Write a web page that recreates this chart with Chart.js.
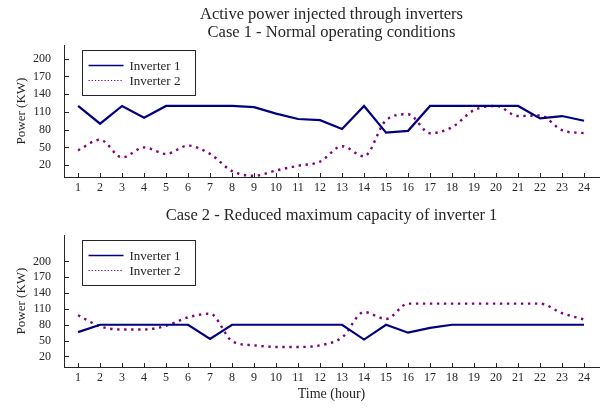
<!DOCTYPE html>
<html>
<head>
<meta charset="utf-8">
<script src="https://cdn.jsdelivr.net/npm/chart.js@4.4.1/dist/chart.umd.min.js"></script>
<style>
  html, body { margin: 0; padding: 0; background: #fff; }
  #wrap { position: relative; width: 603px; height: 409px; }
  canvas { position: absolute; left: 0; }
  #case1 { top: 0; }
  #case2 { top: 200px; }
</style>
</head>
<body>
<div id="wrap">
  <canvas id="case1" width="603" height="200"></canvas>
  <canvas id="case2" width="603" height="209"></canvas>
</div>
<script>
const hours = [1, 2, 3, 4, 5, 6, 7, 8, 9, 10, 11, 12, 13, 14, 15, 16, 17, 18, 19, 20, 21, 22, 23, 24];
const powerTicks = [20, 50, 80, 110, 140, 170, 200];

// Case 1 - normal operating conditions (kW)
const case1Inverter1 = [120, 90, 120, 100, 120, 120, 120, 120, 118, 107, 98, 96, 81, 120, 75, 78, 120, 120, 120, 120, 120, 99, 103, 95];
const case1Inverter2 = [45, 63, 33, 50, 39, 53, 39, 10, 2, 11, 19, 26, 52, 35, 96, 106, 74, 84, 113, 120, 103, 104, 79, 74];

// Case 2 - reduced max capacity of inverter 1 (kW)
const case2Inverter1 = [66, 80, 80, 80, 80, 80, 53, 80, 80, 80, 80, 80, 80, 52, 80, 65, 74, 80, 80, 80, 80, 80, 80, 80];
const case2Inverter2 = [98, 77, 71, 71, 78, 94, 101, 49, 41, 38, 38, 41, 56, 104, 91, 120, 120, 120, 120, 120, 120, 120, 102, 90];

const FONT = "'Liberation Serif', 'Times New Roman', serif";
const AXIS = '#262626';

// MATLAB style ticks pointing into the axes
const innerTicks = {
  id: 'innerTicks',
  afterDatasetsDraw(chart) {
    const { ctx, chartArea: a, scales: { x, y } } = chart;
    ctx.save();
    ctx.strokeStyle = AXIS;
    ctx.lineWidth = 1;
    ctx.beginPath();
    x.ticks.forEach(t => {
      const px = Math.round(x.getPixelForValue(t.value)) + 0.5;
      ctx.moveTo(px, a.bottom);
      ctx.lineTo(px, a.bottom - 4);
    });
    y.ticks.forEach(t => {
      const py = Math.round(y.getPixelForValue(t.value)) + 0.5;
      ctx.moveTo(a.left, py);
      ctx.lineTo(a.left + 5, py);
    });
    ctx.stroke();
    ctx.restore();
  }
};

// boxed legend in the top-left corner of the plot area
const boxLegend = {
  id: 'boxLegend',
  afterDraw(chart) {
    const { ctx, chartArea: a } = chart;
    const bx = Math.round(a.left + 18) + 0.5;
    const by = Math.round(a.top + 5) + 0.5;
    ctx.save();
    ctx.fillStyle = '#fff';
    ctx.fillRect(bx, by, 113, 45);
    ctx.strokeStyle = AXIS;
    ctx.lineWidth = 1;
    ctx.strokeRect(bx, by, 113, 45);
    chart.data.datasets.forEach((ds, i) => {
      const ry = by + 15 + i * 15;
      ctx.beginPath();
      ctx.strokeStyle = ds.borderColor;
      ctx.lineWidth = i === 0 ? 1.5 : 1.2;
      ctx.setLineDash(i === 0 ? [] : [1.2, 2]);
      ctx.moveTo(bx + 6, ry);
      ctx.lineTo(bx + 41, ry);
      ctx.stroke();
      ctx.setLineDash([]);
      ctx.fillStyle = AXIS;
      ctx.font = '13px ' + FONT;
      ctx.textBaseline = 'middle';
      ctx.fillText(ds.label, bx + 47, ry + 1);
    });
    ctx.restore();
  }
};

function makeDatasets(inv1, inv2) {
  return [
    {
      label: 'Inverter 1',
      data: hours.map((h, i) => ({ x: h, y: inv1[i] })),
      borderColor: '#000080',
      borderWidth: 2.2,
      pointRadius: 0,
      tension: 0
    },
    {
      label: 'Inverter 2',
      data: hours.map((h, i) => ({ x: h, y: inv2[i] })),
      borderColor: '#800080',
      borderWidth: 2.4,
      borderDash: [2.4, 4.6],
      pointRadius: 0,
      cubicInterpolationMode: 'monotone'
    }
  ];
}

function drawCase(id, inv1, inv2, opts) {
  const ctx = document.getElementById(id).getContext('2d');
  return new Chart(ctx, {
    type: 'line',
    data: { datasets: makeDatasets(inv1, inv2) },
    plugins: [innerTicks, boxLegend],
    options: {
      responsive: false,
      animation: false,
      layout: { padding: { left: 0, right: 4, top: 0, bottom: 0 } },
      plugins: {
        legend: { display: false },
        tooltip: { enabled: false },
        title: {
          display: true,
          text: opts.title,
          fullSize: false,
          color: AXIS,
          font: { family: FONT, size: 16.5, weight: 'normal', lineHeight: '18px' },
          padding: opts.titlePad
        }
      },
      scales: {
        x: {
          type: 'linear',
          min: 0.36,
          max: 24.68,
          grid: { display: false, drawTicks: false },
          border: { display: true, color: AXIS, width: 1 },
          afterBuildTicks: s => { s.ticks = hours.map(v => ({ value: v })); },
          afterFit: s => { s.height = opts.xHeight; },
          ticks: {
            color: AXIS,
            padding: 4,
            maxRotation: 0,
            autoSkip: false,
            font: { family: FONT, size: 12 }
          },
          title: {
            display: !!opts.xTitle,
            text: opts.xTitle || '',
            color: AXIS,
            font: { family: FONT, size: 14, lineHeight: '15px' },
            padding: { top: 0, bottom: 7 }
          }
        },
        y: {
          min: 0,
          max: opts.yMax,
          grid: { display: false, drawTicks: false },
          border: { display: true, color: AXIS, width: 1 },
          afterBuildTicks: s => { s.ticks = powerTicks.map(v => ({ value: v })); },
          afterFit: s => { s.width = 64; },
          ticks: {
            color: AXIS,
            padding: 13,
            font: { family: FONT, size: 12 }
          },
          title: {
            display: true,
            text: 'Power (KW)',
            color: AXIS,
            font: { family: FONT, size: 13, lineHeight: '15px' },
            padding: { top: 14, bottom: 0 }
          }
        }
      }
    }
  });
}

drawCase('case1', case1Inverter1, case1Inverter2, {
  title: ['Active power injected through inverters', 'Case 1 - Normal operating conditions'],
  titlePad: { top: 6, bottom: 3 },
  xHeight: 23,
  yMax: 223
});

drawCase('case2', case2Inverter1, case2Inverter2, {
  title: 'Case 2 - Reduced maximum capacity of inverter 1',
  titlePad: { top: 7, bottom: 10 },
  xHeight: 42,
  xTitle: 'Time (hour)',
  yMax: 250
});
</script>
</body>
</html>
